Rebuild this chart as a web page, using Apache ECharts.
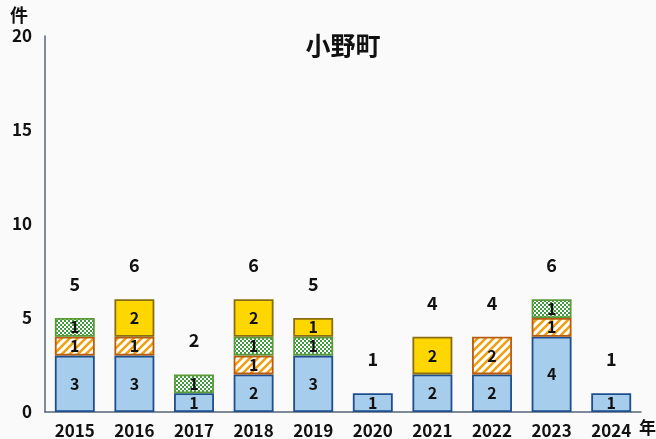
<!DOCTYPE html>
<html><head><meta charset="utf-8">
<script src="https://cdn.jsdelivr.net/npm/echarts@6/dist/echarts.min.js"></script>
<style>html,body{margin:0;padding:0;background:#fafafa}#c{width:656px;height:439px}</style>
</head><body><div id="c"></div>
<script>
var years = ['2015','2016','2017','2018','2019','2020','2021','2022','2023','2024'];
var blueVals   = [3,3,1,2,3,1,2,2,4,1];
var orangeVals = [1,1,null,1,null,null,null,2,1,null];
var greenVals  = [1,null,1,1,1,null,null,null,1,null];
var yellowVals = [null,2,null,2,1,null,2,null,null,null];
var yTicks = [0,5,10,15,20];

var totals = years.map(function(_,i){
  return [blueVals,orangeVals,greenVals,yellowVals].reduce(function(s,a){return s+(a[i]||0);},0);
});

function hatch(){
  var c=document.createElement('canvas');c.width=8;c.height=8;var g=c.getContext('2d');
  g.fillStyle='#ffffff';g.fillRect(0,0,8,8);
  g.strokeStyle='#f0a010';g.lineWidth=2.6;
  g.beginPath();
  g.moveTo(-2,10);g.lineTo(10,-2);
  g.moveTo(-6,6);g.lineTo(6,-6);
  g.moveTo(2,14);g.lineTo(14,2);
  g.stroke();
  return c;
}
function check(){
  var c=document.createElement('canvas');c.width=4;c.height=4;var g=c.getContext('2d');
  g.fillStyle='#ffffff';g.fillRect(0,0,4,4);
  g.fillStyle='#3f9a3f';g.fillRect(0,0,2,2);g.fillRect(2,2,2,2);
  return c;
}
var font = '"Noto Sans CJK JP", "Noto Sans", sans-serif';
var lbl = {show:true,position:'inside',color:'#111',fontSize:16,fontWeight:'bold',fontFamily:font};
function mk(name,data,color,border){
  return {name:name,type:'bar',stack:'s',data:data,barWidth:'67%',
    itemStyle:{color:color,borderColor:border,borderWidth:1.8},label:lbl,
    emphasis:{disabled:true}};
}
var chart = echarts.init(document.getElementById('c'));
chart.setOption({
  backgroundColor:'#fafafa',
  animation:false,
  title:{text:'小野町',left:338,top:28,textAlign:'center',
    textStyle:{fontSize:25,fontWeight:'bold',color:'#111',fontFamily:font}},
  grid:{left:45,right:15,top:36,bottom:27},
  xAxis:{type:'category',data:years,
    axisLine:{lineStyle:{color:'#56657a',width:1.5}},axisTick:{show:false},
    axisLabel:{color:'#111',fontSize:17,fontWeight:'bold',fontFamily:font,margin:10}},
  yAxis:{type:'value',min:0,max:20,interval:5,
    axisLine:{show:true,lineStyle:{color:'#56657a',width:1.5}},axisTick:{show:false},
    splitLine:{show:false},
    axisLabel:{color:'#111',fontSize:17,fontWeight:'bold',fontFamily:font,margin:13,
      formatter:function(v){return yTicks.indexOf(v)>=0?String(v):'';}}},
  graphic:[
    {type:'text',left:10,top:6,style:{text:'件',fontSize:18,fontWeight:'bold',fill:'#111',fontFamily:font}},
    {type:'text',left:639,top:419,style:{text:'年',fontSize:17,fontWeight:'bold',fill:'#111',fontFamily:font}}
  ],
  series:[
    mk('blue',blueVals,'#a7cdec','#1f4e8c'),
    mk('orange',orangeVals,{image:hatch(),repeat:'repeat'},'#b85c10'),
    mk('green',greenVals,{image:check(),repeat:'repeat'},'#5a9a3a'),
    mk('yellow',yellowVals,'#ffd700','#8a6d10'),
    {name:'total',type:'bar',stack:'s',data:totals.map(function(){return 0;}),barWidth:'67%',
      itemStyle:{color:'transparent'},
      label:{show:true,position:'top',distance:25,color:'#111',fontSize:18,fontWeight:'bold',fontFamily:font,
        formatter:function(p){return String(totals[p.dataIndex]);}}}
  ]
});
</script></body></html>
